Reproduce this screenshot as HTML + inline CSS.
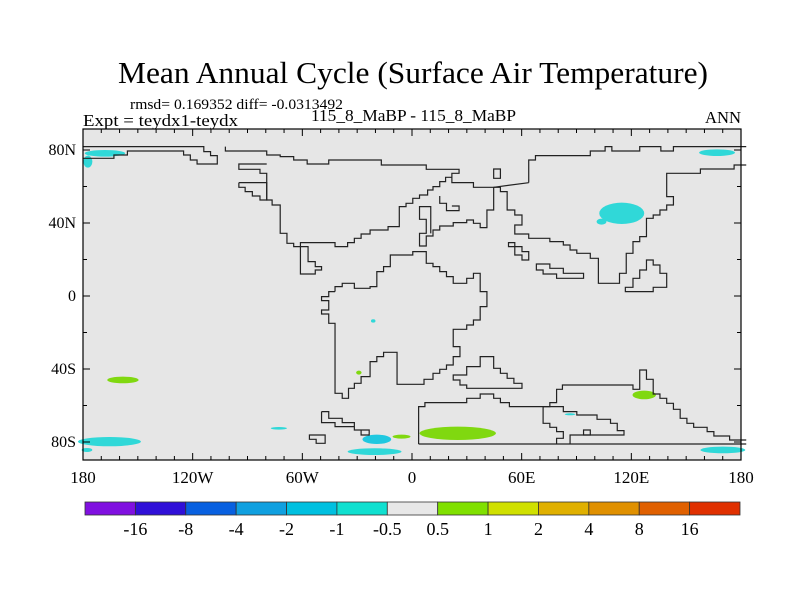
<!DOCTYPE html>
<html><head><meta charset="utf-8"><style>
body{margin:0;background:#fff;}
svg{display:block;font-family:"Liberation Serif",serif;}
</style></head><body>
<svg id="c" width="800" height="600" viewBox="0 0 800 600">
<text x="118" y="83" font-size="31" textLength="590" lengthAdjust="spacingAndGlyphs">Mean Annual Cycle (Surface Air Temperature)</text>
<text x="130" y="109" font-size="15" textLength="213" lengthAdjust="spacingAndGlyphs">rmsd= 0.169352 diff= -0.0313492</text>
<text x="83" y="126" font-size="17" textLength="155" lengthAdjust="spacingAndGlyphs">Expt = teydx1-teydx</text>
<text x="311" y="121" font-size="17" textLength="205" lengthAdjust="spacingAndGlyphs">115_8_MaBP - 115_8_MaBP</text>
<text x="705" y="123" font-size="17" textLength="36" lengthAdjust="spacingAndGlyphs">ANN</text>
<rect x="83" y="129" width="658" height="331" fill="#e6e6e6"/>
<g id="blobs" transform="translate(60,90) scale(0.4494,0.3333)">
<ellipse cx="100" cy="190" rx="45" ry="10" fill="#30d8d8"/>
<ellipse cx="62" cy="215" rx="10" ry="18" fill="#30d8d8"/>
<ellipse cx="1462" cy="188" rx="40" ry="10" fill="#30d8d8"/>
<ellipse cx="1250" cy="370" rx="50" ry="32" fill="#30d8d8"/>
<ellipse cx="1205" cy="395" rx="11" ry="9" fill="#30d8d8"/>
<ellipse cx="140" cy="870" rx="35" ry="10" fill="#80d810"/>
<ellipse cx="1300" cy="915" rx="26" ry="13" fill="#80d810"/>
<ellipse cx="885" cy="1030" rx="85" ry="20" fill="#80d810"/>
<ellipse cx="110" cy="1055" rx="70" ry="14" fill="#30d8d8"/>
<ellipse cx="60" cy="1080" rx="12" ry="6" fill="#30d8d8"/>
<ellipse cx="700" cy="1085" rx="60" ry="10" fill="#30d8d8"/>
<ellipse cx="705" cy="1048" rx="32" ry="14" fill="#20c8e0"/>
<ellipse cx="1475" cy="1080" rx="50" ry="10" fill="#30d8d8"/>
<ellipse cx="487" cy="1015" rx="18" ry="4" fill="#30d8d8"/>
<ellipse cx="760" cy="1040" rx="20" ry="6" fill="#80d810"/>
<ellipse cx="665" cy="848" rx="6" ry="6" fill="#80d810"/>
<ellipse cx="697" cy="693" rx="5" ry="5" fill="#30d8d8"/>
<ellipse cx="1135" cy="973" rx="12" ry="3" fill="#30d8d8"/>
</g>
<g fill="none" stroke="#222" stroke-width="1.2" transform="translate(60,90) scale(0.4494,0.3333)">
<polyline vector-effect="non-scaling-stroke" points="50,170 320,170 320,185 335,185 335,197 350,197 350,222 305,222 305,210 290,210 290,195 275,195 275,183 150,183 150,195 120,195 120,205 50,205"/>
<polyline vector-effect="non-scaling-stroke" points="368,170 368,183 460,183 460,195 490,195 490,200 520,200 520,210 550,210 550,222 598,222 598,210 715,210 715,225 815,225 815,238 888,238 888,250 872,250 872,262 858,262 858,275 845,275 845,290 830,290 830,300 818,300 818,315 800,315 800,325 785,325 785,340 770,340 770,350 755,350 755,410 730,410 730,420 690,420 690,432 670,432 670,445 655,445 655,458 640,458 640,470 612,470 612,458 535,458 535,552 568,552 568,540 582,540 582,530 568,530 568,515 552,515 552,470 520,470 520,460 505,460 505,430 490,430 490,345 472,345 472,330 460,330 460,250 445,250 445,238 398,238 398,222 460,222"/>
<polyline vector-effect="non-scaling-stroke" points="398,278 398,292 412,292 412,305 428,305 428,318 445,318 445,330 460,330 460,278 398,278"/>
<polyline vector-effect="non-scaling-stroke" points="872,262 872,278 920,278 920,292 965,292 965,360 950,360 950,413 935,413 935,400 920,400 920,390 905,390 905,398 875,398 875,408 845,408 845,420 830,420 830,438 815,438 815,468 800,468 800,430 815,430 815,388 800,388 800,350 825,350 825,430"/>
<polyline vector-effect="non-scaling-stroke" points="845,318 845,340 860,340 860,362 888,362 888,348 872,348"/>
<polygon vector-effect="non-scaling-stroke" points="965,237 980,237 980,265 965,265"/>
<polyline vector-effect="non-scaling-stroke" points="1043,278 1043,210 1058,210 1058,197 1180,197 1180,183 1213,183 1213,170 1228,170 1228,183 1290,183 1290,170 1337,170 1337,183 1365,183 1365,170 1527,170"/>
<polyline vector-effect="non-scaling-stroke" points="1527,225 1500,225 1500,237 1425,237 1425,250 1350,250 1350,320 1365,320 1365,345 1350,345 1350,360 1335,360 1335,375 1320,375 1320,385 1305,385 1305,440 1290,440 1290,455 1275,455 1275,490 1260,490 1260,550 1245,550 1245,580 1198,580 1198,505 1180,505 1180,490 1150,490 1150,480 1135,480 1135,465 1120,465 1120,455 1090,455 1090,445 1043,445 1043,432 1012,432 1012,405 1028,405 1028,375 1012,375 1012,360 995,360 995,305 980,305 980,292 965,292"/>
<polyline vector-effect="non-scaling-stroke" points="965,292 1043,278"/>
<polygon vector-effect="non-scaling-stroke" points="998,458 1012,458 1012,470 1028,470 1028,485 1043,485 1043,510 1028,510 1028,495 1012,495 1012,470 998,470"/>
<polygon vector-effect="non-scaling-stroke" points="1060,522 1090,522 1090,535 1120,535 1120,550 1165,550 1165,565 1105,565 1105,552 1075,552 1075,540 1060,540"/>
<polygon vector-effect="non-scaling-stroke" points="1305,510 1320,510 1320,525 1335,525 1335,550 1350,550 1350,592 1320,592 1320,605 1258,605 1258,592 1275,592 1275,565 1290,565 1290,540 1305,540"/>
<polyline vector-effect="non-scaling-stroke" points="612,605 598,605 598,620 582,620 582,632 598,632 598,660 582,660 582,672 598,672 598,700 612,700 612,910 628,910 628,925 642,925 642,895 655,895 655,880 670,880 670,860 690,860 690,815 705,815 705,800 720,800 720,787 750,787 750,883 810,883 810,868 830,868 830,850 845,850 845,838 860,838 860,825 875,825 875,800 890,800 890,770 875,770 875,718 905,718 905,705 920,705 920,690 935,690 935,650 950,650 950,605 935,605 935,550 920,550 920,565 905,565 905,580 875,580 875,560 860,560 860,545 845,545 845,530 830,530 830,520 815,520 815,485 785,485 785,495 735,495 735,530 720,530 720,545 705,545 705,590 690,590 690,595 655,595 655,580 628,580 628,590 612,590 612,605"/>
<polygon vector-effect="non-scaling-stroke" points="875,855 905,855 905,830 935,830 935,800 965,800 965,835 980,835 980,850 995,850 995,865 1010,865 1010,880 1028,880 1028,895 905,895 905,885 890,885 890,870 875,870"/>
<polyline vector-effect="non-scaling-stroke" points="798,1062 1527,1062"/>
<polyline vector-effect="non-scaling-stroke" points="798,1062 798,950 812,950 812,938 905,938 905,925 935,925 935,912 965,912 965,925 980,925 980,938 1000,938 1000,950 1090,950 1090,938 1105,938 1105,898 1118,898 1118,885 1275,885 1275,898 1290,898 1290,840 1305,840 1305,868 1320,868 1320,912 1335,912 1335,925 1350,925 1350,940 1365,940 1365,958 1380,958 1380,985 1395,985 1395,1000 1410,1000 1410,1012 1440,1012 1440,1025 1455,1025 1455,1038 1490,1038 1490,1050 1527,1050"/>
<polyline vector-effect="non-scaling-stroke" points="1105,1062 1105,1045 1120,1045 1120,1025 1105,1025 1105,1012 1090,1012 1090,1000 1075,1000 1075,950 1120,950 1120,965 1150,965 1150,975 1195,975 1195,988 1225,988 1225,1000 1240,1000 1240,1022 1255,1022 1255,1035 1135,1035 1135,1062"/>
<polygon vector-effect="non-scaling-stroke" points="1165,1020 1180,1020 1180,1035 1165,1035"/>
<polyline vector-effect="non-scaling-stroke" points="582,965 598,965 598,985 628,985 628,998 655,998 655,1020 688,1020 688,1035 670,1035 670,1020 655,1020 655,1010 612,1010 612,998 582,998 582,965"/>
<polygon vector-effect="non-scaling-stroke" points="555,1035 590,1035 590,1060 570,1060 570,1048 555,1048"/>
</g>
<rect x="83" y="129" width="658" height="331" fill="none" stroke="#000" stroke-width="1.2"/>
<g id="axes"></g>
<g id="cbar"></g>
<script>
const lonTicks=[-180,-120,-60,0,60,120,180];
const lonLabels=["180","120W","60W","0","60E","120E","180"];
const latTicks=[80,40,0,-40,-80];
const latLabels=["80N","40N","0","40S","80S"];
const levels=["-16","-8","-4","-2","-1","-0.5","0.5","1","2","4","8","16"];
const colors=["#8010e0","#3010d8","#0860e0","#10a0e0","#00c0e0","#10e0d0","#e8e8e8","#80e000","#d0e000","#e0b000","#e09000","#e06000","#e03000"];
const NS="http://www.w3.org/2000/svg";
const X0=83,X1=741,Y0=129,Y1=460;
const xs=l=>X0+(l+180)/360*(X1-X0);
const ys=l=>296-l*1.825;
function mk(t,a,p){const e=document.createElementNS(NS,t);for(const k in a)e.setAttribute(k,a[k]);p.appendChild(e);return e;}
const ax=document.getElementById('axes');
for(let l=-180;l<=180;l+=10){const x=xs(l);const L=(l%60===0)?7:4;
const t1=mk('line',{x1:x,x2:x,y1:Y1,y2:Y1-L,stroke:'#000'},ax);


const t2=mk('line',{x1:x,x2:x,y1:Y0,y2:Y0+L,stroke:'#000'},ax);

}
for(let l=-80;l<=80;l+=20){const y=ys(l);const L=(l%40===0)?7:4;
const t1=mk('line',{x1:X0,x2:X0+L,y1:y,y2:y,stroke:'#000'},ax);


const t2=mk('line',{x1:X1,x2:X1-L,y1:y,y2:y,stroke:'#000'},ax);

}
lonTicks.forEach((l,i)=>{const t=mk('text',{x:xs(l),y:483,'font-size':17,'text-anchor':'middle'},ax);t.textContent=lonLabels[i];

});
latTicks.forEach((l,i)=>{const t=mk('text',{x:76,y:ys(l)+5,'font-size':16,'text-anchor':'end'},ax);t.textContent=latLabels[i];

});
const cb=document.getElementById('cbar');
const cx0=85,cx1=740,cw=(cx1-cx0)/colors.length;
colors.forEach((c,i)=>{const r=mk('rect',{x:cx0+i*cw,y:502,width:cw,height:13,fill:c,stroke:'#333','stroke-width':0.8},cb);

});
levels.forEach((v,i)=>{const t=mk('text',{x:cx0+(i+1)*cw,y:535,'font-size':18,'text-anchor':'middle'},cb);t.textContent=v;

});
</script>
</svg>
</body></html>
